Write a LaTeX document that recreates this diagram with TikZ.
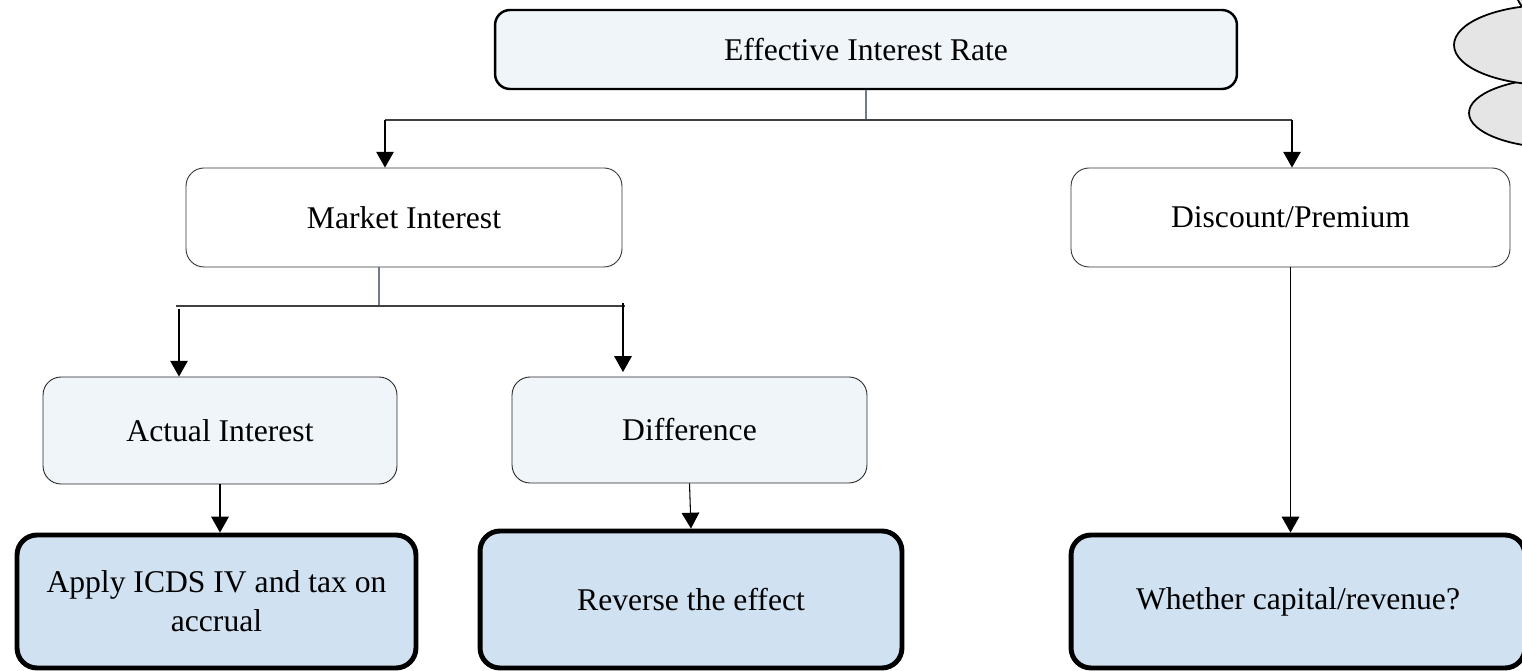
\documentclass[tikz,border=0pt]{standalone}
\usepackage{fontspec}
\setmainfont{Liberation Serif}
\usetikzlibrary{positioning, arrows.meta}

\definecolor{paleblue}{HTML}{F0F5FA}
\definecolor{deepblue}{HTML}{D0E1F2}
\definecolor{cloudgray}{HTML}{E5E5E5}
\definecolor{slate}{HTML}{6E7B8B}

\begin{document}
\begin{tikzpicture}[
        x=0.02cm, y=-0.02cm,
        box/.style={rectangle, rounded corners=0.36cm, draw=black, line width=0.5pt, align=center, font=\fontsize{18}{22}\selectfont},
        headbox/.style={box, fill=paleblue, line width=1.4pt, rounded corners=0.3cm},
        midbox/.style={box, fill=white, draw=black!80},
        lowbox/.style={box, fill=paleblue, draw=black!85},
        endbox/.style={box, fill=deepblue, line width=2.8pt, rounded corners=0.4cm},
        arrow/.style={-{Triangle[width=10pt,length=9pt]}, line width=0.6pt},
        stem/.style={draw=slate, line width=0.8pt},
        bar/.style={draw=black!75, line width=0.9pt}
    ]
        \useasboundingbox (0,0) rectangle (1522,671);
        \clip (0,0) rectangle (1522,671);

        % Cloud
        \draw[fill=cloudgray, line width=1pt] (1600,-20) ellipse [x radius=87, y radius=60];
        \draw[fill=cloudgray, line width=1pt] (1560,113) ellipse [x radius=91, y radius=35];
        \draw[fill=cloudgray, line width=1pt] (1550,45) ellipse [x radius=96, y radius=40];

        % Nodes
        \node[headbox, minimum width=14.84cm, minimum height=1.58cm] (rate) at (866,49.5) {Effective Interest Rate};
        \node[midbox, minimum width=8.72cm, minimum height=1.98cm] (market) at (404,217.5) {Market Interest};
        \node[midbox, minimum width=8.78cm, minimum height=1.98cm] (discount) at (1290.5,217.5) {Discount/Premium};
        \node[lowbox, minimum width=7.08cm, minimum height=2.14cm] (actual) at (220,430.5) {Actual Interest};
        \node[lowbox, minimum width=7.1cm, minimum height=2.12cm] (difference) at (689.5,430) {Difference};
        \node[endbox, minimum width=7.98cm, minimum height=2.66cm] (apply) at (216.5,601.5) {Apply ICDS IV and tax on\\accrual};
        \node[endbox, minimum width=8.44cm, minimum height=2.74cm] (reverse) at (691,599.5) {Reverse the effect};
        \node[endbox, minimum width=9.08cm, minimum height=2.66cm] (whether) at (1298,601.5) {Whether capital/revenue?};

        \coordinate (hubA) at (866,120);
        \coordinate (hubAL) at (385,120);
        \coordinate (hubAR) at (1292,120);
        \coordinate (hubB) at (379,306);
        \coordinate (hubBL) at (176,306);
        \coordinate (hubBR) at (625,306);
        \coordinate (dropL) at (179,309);
        \coordinate (dropR) at (623,303);
        \coordinate (dropRend) at (623,372);

        % Paths
        \draw[stem] (rate.south -| hubA) -- (hubA);
        \draw[bar] (hubAL) -- (hubAR);
        \draw[arrow] (hubAL) -- (hubAL |- market.north);
        \draw[arrow] (hubAR) -- (hubAR |- discount.north);

        \draw[stem] (hubB |- market.south) -- (hubB);
        \draw[bar] (hubBL) -- (hubBR);
        \draw[arrow] (dropL) -- (dropL |- actual.north);
        \draw[arrow] (dropR) -- (dropRend);

        \draw[arrow] (actual.south) -- (actual.south |- apply.north);
        \draw[arrow] (difference.south) -- (reverse.north);
        \draw[arrow] (discount.south) -- (discount.south |- whether.north);
    \end{tikzpicture}
\end{document}
